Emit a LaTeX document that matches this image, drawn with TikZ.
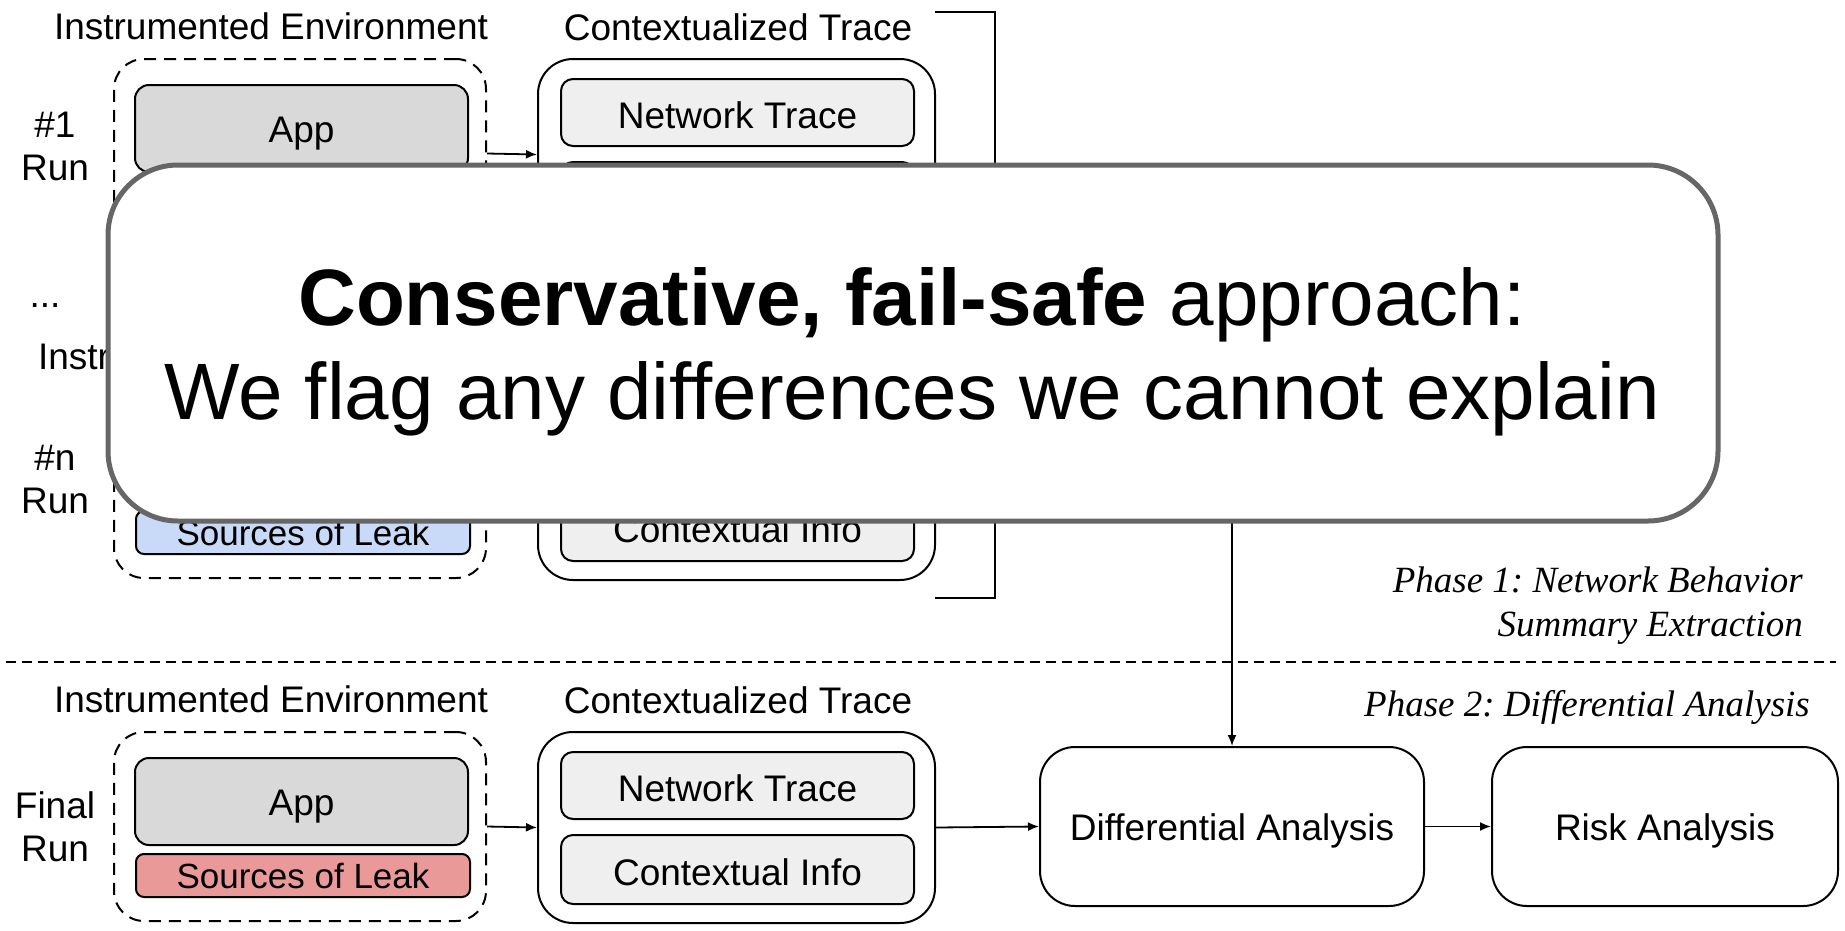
\documentclass[tikz,border=0pt]{standalone}
\usepackage{fontspec}
\setmainfont{Liberation Sans}
\newfontfamily\phasefont{Liberation Serif}
\usetikzlibrary{arrows.meta}
\frenchspacing
\definecolor{appgray}{HTML}{D9D9D9}
\definecolor{itemgray}{HTML}{EFEFEF}
\definecolor{leakblue}{HTML}{C9DAF8}
\definecolor{leakred}{HTML}{EA9999}
\definecolor{calloutgray}{HTML}{666666}
\tikzset{
  lbl/.style={font=\fontsize{37}{43}\selectfont, inner sep=0pt, align=center},
  envbox/.style={draw, line width=2pt, dash pattern=on 12pt off 8pt, rounded corners=30pt,
                 minimum width=372pt, minimum height=189pt, inner sep=0pt},
  appbox/.style={draw, line width=2pt, fill=appgray, rounded corners=14pt,
                 minimum width=333pt, minimum height=87pt, inner sep=0pt,
                 font=\fontsize{37}{43}\selectfont},
  leakbox/.style={draw, line width=2pt, rounded corners=8pt,
                  minimum width=334pt, minimum height=43pt, inner sep=0pt,
                  font=\fontsize{35}{40}\selectfont},
  ctxbox/.style={draw, line width=2pt, rounded corners=35pt,
                 minimum width=397pt, minimum height=191pt, inner sep=0pt},
  itembox/.style={draw, line width=2pt, fill=itemgray, rounded corners=12pt,
                  minimum width=353pt, inner sep=0pt,
                  font=\fontsize{37}{43}\selectfont},
  stagebox/.style={draw, line width=2pt, rounded corners=35pt,
                   minimum height=159pt, inner sep=0pt,
                   font=\fontsize{37}{43}\selectfont},
  flow/.style={line width=1.8pt, -{Latex[length=11pt,width=9pt]}},
  phase/.style={font=\phasefont\itshape\fontsize{37}{44}\selectfont, inner sep=0pt, align=right},
  callout/.style={draw=calloutgray, line width=5pt, fill=white, rounded corners=70pt,
                  minimum width=1610pt, minimum height=356pt, inner sep=0pt},
  bigtext/.style={font=\fontsize{80}{95}\selectfont, inner sep=0pt, anchor=base}
}
\begin{document}
\begin{tikzpicture}[x=1pt,y=-1pt]
\useasboundingbox (0,0) rectangle (1845,930);

% one row per run: instrumented environment -> contextualized trace
% (texts that stay under the callout are left empty)
\foreach \r/\t/\tx/\ly/\lab/\fillc/\ctitle/\apptext/\leaktext/\nettext/\infotext in {
    1/59/271/87/{\#1\\Run}/leakblue/{Contextualized Trace}/{App}/{}/{Network Trace}/{},
    n/389/255/91/{\#n\\Run}/leakblue/{}/{}/{Sources of Leak}/{}/{Contextual Info},
    f/732/271/95/{Final\\Run}/leakred/{Contextualized Trace}/{App}/{Sources of Leak}/{Network Trace}/{Contextual Info}}{
  \node[lbl] (envtitle\r) at (\tx,\t-33) {Instrumented Environment};
  \node[lbl] (ctxtitle\r) at (738,\t-32) {\ctitle};
  \node[envbox] (env\r) at (300,\t+94.5) {};
  \node[appbox] (app\r) at (301.5,\t+69.5) {};
  \node[lbl] (apptext\r) at (301.5,\t+75) {\apptext};
  \node[leakbox, fill=\fillc] (leak\r) at (303,\t+143.5) {\leaktext};
  \node[ctxbox] (ctx\r) at (736.5,\t+95.5) {};
  \node[itembox, minimum height=67pt] (net\r) at (737.5,\t+53.5) {};
  \node[lbl] (nettext\r) at (737.5,\t+56) {\nettext};
  \node[itembox, minimum height=69pt] (info\r) at (737.5,\t+137.5) {};
  \node[lbl] (infotext\r) at (737.5,\t+140) {\infotext};
  \node[lbl] (run\r) at (55,\t+\ly) {\lab};
  \draw[flow] (env\r.east) -- (ctx\r.west);
}

\node[lbl] (dots) at (45,306) {...};

% phase separator and phase captions
\coordinate (sepL) at (6,662);
\coordinate (sepR) at (1836,662);
\draw[line width=2pt, dash pattern=on 10pt off 6pt] (sepL) -- (sepR);
\node[phase, anchor=east] (phase1) at (1803,606) {Phase 1: Network Behavior\\Summary Extraction};
\node[phase, anchor=east] (phase2) at (1810,707) {Phase 2: Differential Analysis};

% analysis stages
\node[stagebox, minimum width=384pt] (diff) at (1232,826.5) {};
\node[lbl] (difftext) at (1232,831) {Differential Analysis};
\node[stagebox, minimum width=346pt] (risk) at (1665,826.5) {};
\node[lbl] (risktext) at (1665,831) {Risk Analysis};
\draw[flow] (ctxf.east) -- (diff.west);
\draw[flow] (diff.east) -- (risk.west);

% bracket collecting the repeated runs
\coordinate (brTop) at (935,12);
\coordinate (brTopR) at (995,12);
\coordinate (brBotR) at (995,598);
\coordinate (brBot) at (935,598);
\coordinate (brMid) at (995,305);
\draw[line width=2pt] (brTop) -- (brTopR) -- (brBotR) -- (brBot);
\draw[flow] (brMid) -| (diff.north);

% callout
\node[callout] (note) at (913,343) {};
\node[bigtext] (noteA) at (912,325) {\textbf{Conservative, fail-safe} approach:};
\node[bigtext] (noteB) at (912,419) {We flag any differences we cannot explain};
\end{tikzpicture}
\end{document}
